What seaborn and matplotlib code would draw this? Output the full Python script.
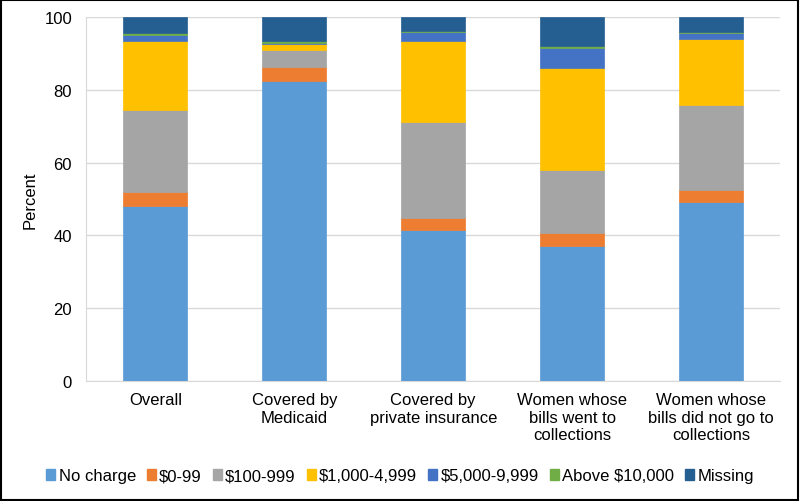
import numpy as np
import pandas as pd
import matplotlib.pyplot as plt
import seaborn as sns
from matplotlib.patches import Patch

groups = ["Overall", "Covered by\nMedicaid", "Covered by\nprivate insurance",
          "Women whose\nbills went to\ncollections", "Women whose\nbills did not go to\ncollections"]
categories = ["No charge", "$0-99", "$100-999", "$1,000-4,999", "$5,000-9,999", "Above $10,000", "Missing"]
no_charge = [48.2, 82.5, 41.5, 37.0, 49.1]
c_0_99 = [3.8, 3.9, 3.3, 3.8, 3.5]
c_100_999 = [22.6, 4.5, 26.4, 17.2, 23.3]
c_1000_4999 = [18.9, 1.8, 22.3, 27.9, 18.1]
c_5000_9999 = [1.7, 0.3, 2.3, 5.6, 1.7]
above_10000 = [0.4, 0.4, 0.4, 0.6, 0.3]
missing = [4.4, 6.6, 3.8, 7.9, 4.0]
colors = ["#5B9BD5", "#ED7D31", "#A5A5A5", "#FFC000", "#4472C4", "#70AD47", "#255E91"]

series = [no_charge, c_0_99, c_100_999, c_1000_4999, c_5000_9999, above_10000, missing]

plt.rcParams['font.family'] = ['Liberation Sans', 'DejaVu Sans']
fig = plt.figure(figsize=(8, 5.02), dpi=100)
ax = fig.add_axes([0.1075, 0.239, 0.868, 0.725])

bottom = np.zeros(len(groups))
for name, vals, col in zip(categories, series, colors):
    df = pd.DataFrame({"group": groups, "value": vals})
    sns.barplot(data=df, x="group", y="value", color=col, bottom=bottom,
                width=0.46, ax=ax, saturation=1, edgecolor=col, linewidth=0.5,
                zorder=3)
    bottom = bottom + np.array(vals)

ax.set_ylim(0, 100)
ax.set_yticks(range(0, 101, 20))
ax.set_xlim(-0.5, 4.5)
ax.grid(axis="y", color="#D9D9D9", linewidth=1, zorder=0)
for s in ["top", "right"]:
    ax.spines[s].set_visible(False)
ax.spines["bottom"].set_color("#D9D9D9")
ax.spines["left"].set_color("#D9D9D9")
ax.tick_params(axis="x", length=0, labelsize=12, colors="#000000", pad=8)
ax.tick_params(axis="y", length=0, labelsize=12, colors="#000000", pad=10)
ax.set_xlabel("")
ax.set_ylabel("Percent", fontsize=12, labelpad=5)

handles = [Patch(facecolor=c, edgecolor=c) for c in colors]
fig.legend(handles, categories, loc="center", bbox_to_anchor=(0.5, 0.05), ncol=7,
           frameon=False, fontsize=12, handlelength=0.55, handleheight=0.55,
           handletextpad=0.2, columnspacing=0.65)

fig.patches.append(plt.Rectangle((0.001, 0.001), 0.997, 0.997, transform=fig.transFigure,
                                 fill=False, edgecolor="black", linewidth=1.5))
fig.savefig("out.png", dpi=100)
